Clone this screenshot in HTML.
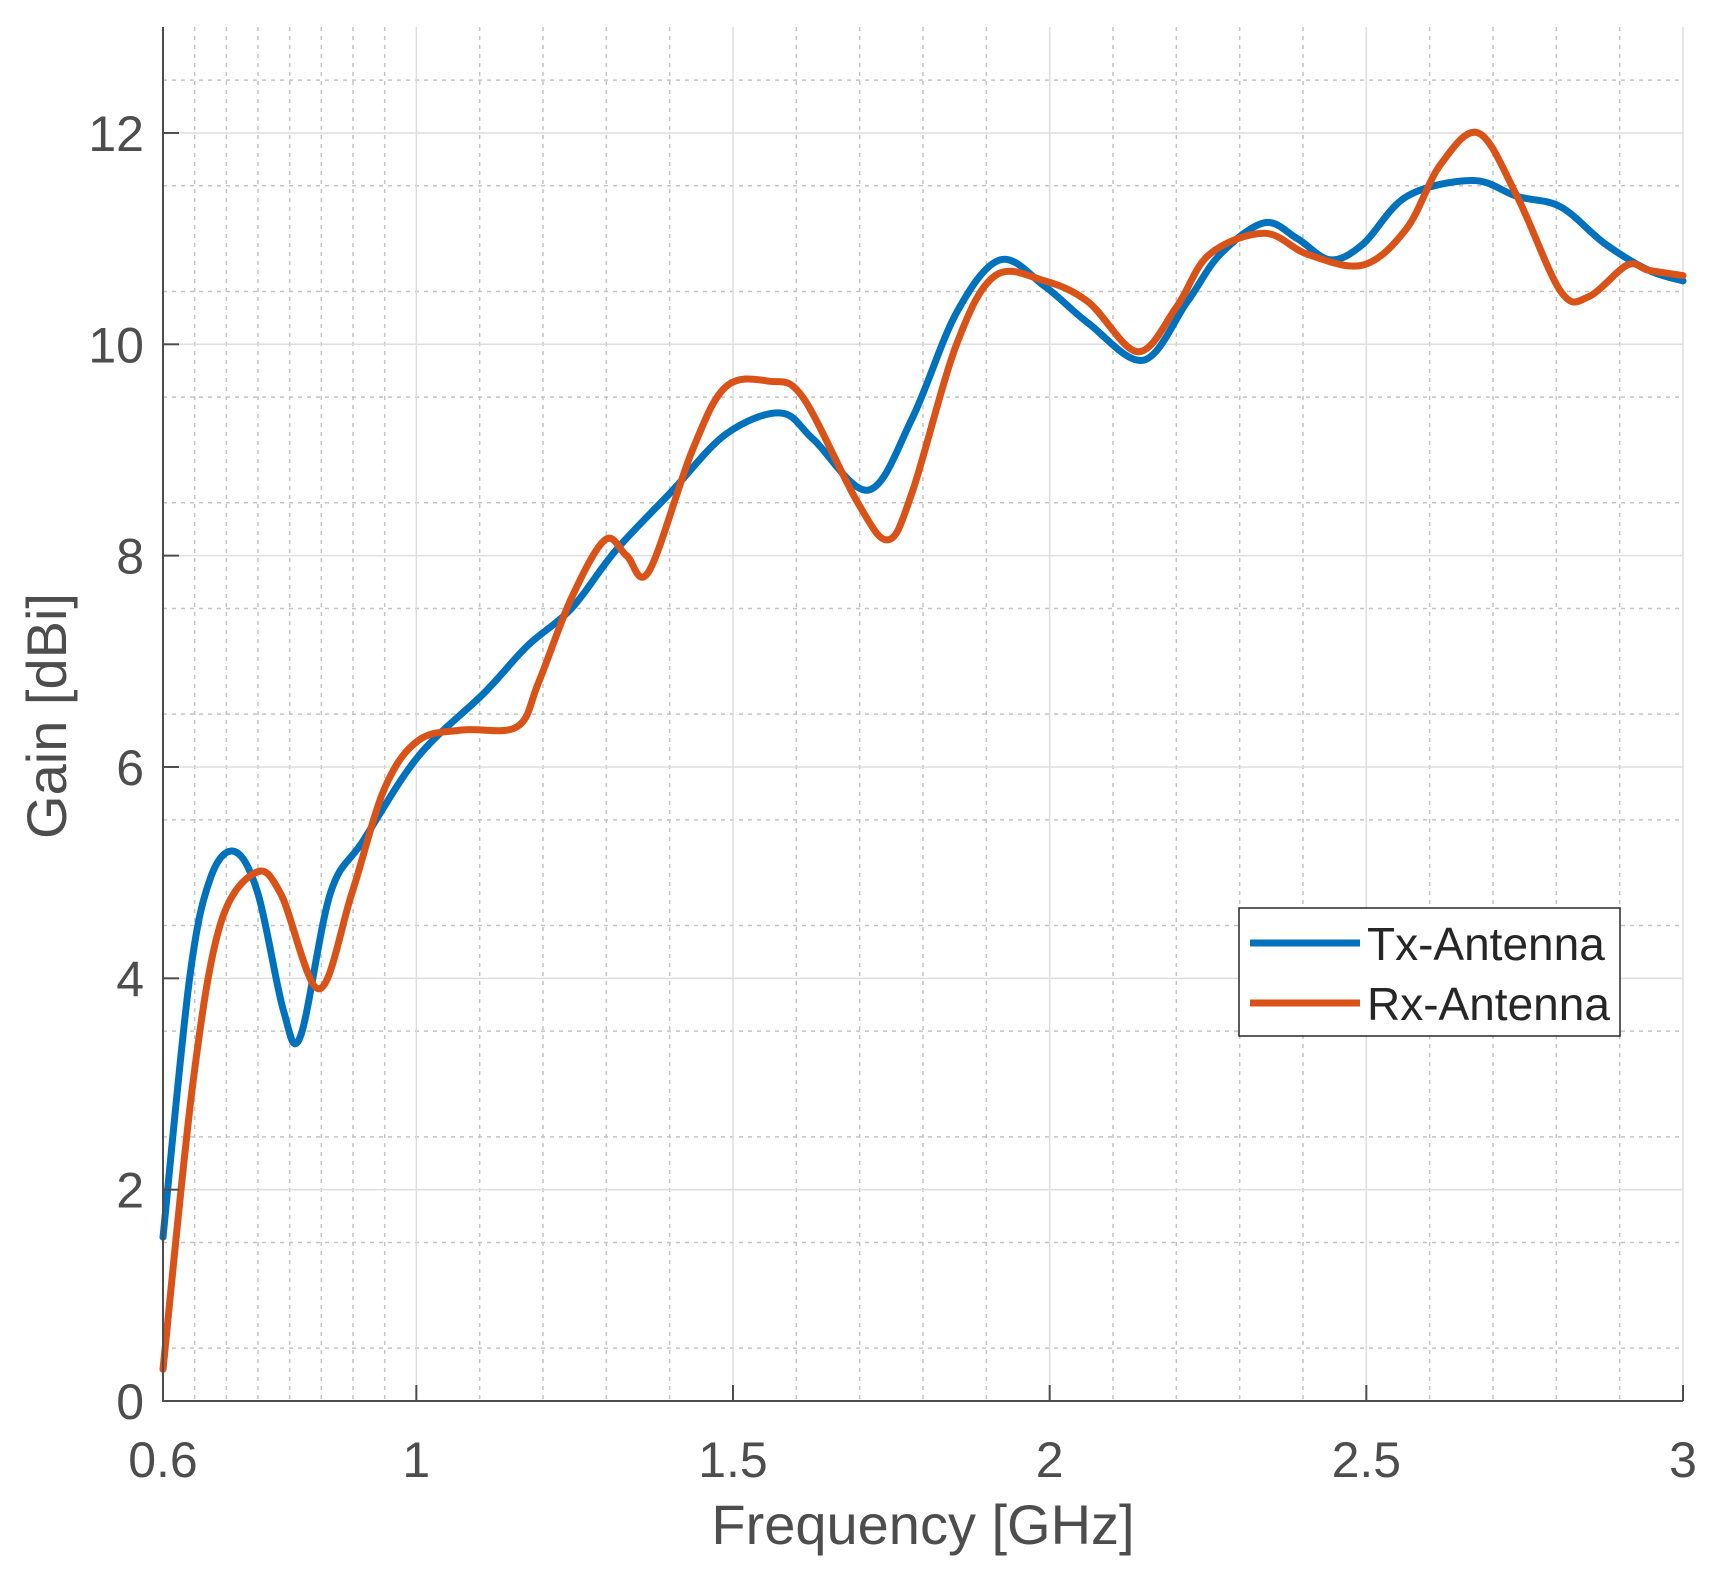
<!DOCTYPE html>
<html><head><meta charset="utf-8">
<style>
html,body{margin:0;padding:0;background:#fff;}
svg{display:block;font-family:"Liberation Sans",Arial,sans-serif;}
</style></head>
<body>
<svg id="s" width="1724" height="1574" viewBox="0 0 1724 1574" xmlns="http://www.w3.org/2000/svg">
<rect width="1724" height="1574" fill="#fff"/>
<g id="grid"></g>
<g id="curves" fill="none" stroke-width="7" stroke-linejoin="round" stroke-linecap="round"></g>
<g id="axes"></g>
<g fill="#4d4d4d">
<text x="923" y="1544" text-anchor="middle" font-size="56">Frequency [GHz]</text>
<text transform="translate(66,716) rotate(-90)" text-anchor="middle" font-size="56">Gain [dBi]</text>
</g>
<g id="legend">
<rect x="1239" y="908" width="381" height="128" fill="#fff" stroke="#262626" stroke-width="1.5"/>
<line x1="1250" y1="943" x2="1360" y2="943" stroke="#0072bd" stroke-width="7"/>
<line x1="1250" y1="1003" x2="1360" y2="1003" stroke="#d95319" stroke-width="7"/>
<text x="1367" y="960" font-size="46" fill="#262626">Tx-Antenna</text>
<text x="1367" y="1020" font-size="46" fill="#262626">Rx-Antenna</text>
</g>
</svg>
<script>
var X0=163,X1=1683,Y0=1401,YT=27;
function fx(f){return X0+(f-0.6)*(X1-X0)/2.4;}
function fy(g){return Y0-g*105.67;}
var NS="http://www.w3.org/2000/svg";
function el(p,t,a,txt){var e=document.createElementNS(NS,t);for(var k in a)e.setAttribute(k,a[k]);if(txt!==undefined)e.textContent=txt;p.appendChild(e);return e;}
var grid=document.getElementById('grid'),axes=document.getElementById('axes');
var mx=[0.65,0.7,0.75,0.8,0.85,0.9,0.95];
for(var f=1.1;f<3;f+=0.1){if(Math.abs(f*2-Math.round(f*2))>0.01)mx.push(f);}
mx.forEach(function(f){var x=fx(f);el(grid,'line',{x1:x,y1:YT,x2:x,y2:Y0,stroke:'#c4c4c4','stroke-width':1.5,'stroke-dasharray':'4 5'});});
for(var g=0.5;g<13;g+=1){var y=fy(g);el(grid,'line',{x1:X0,y1:y,x2:X1,y2:y,stroke:'#c4c4c4','stroke-width':1.5,'stroke-dasharray':'4 5'});}
[1,1.5,2,2.5,3].forEach(function(f){var x=fx(f);el(grid,'line',{x1:x,y1:YT,x2:x,y2:Y0,stroke:'#dedede','stroke-width':1.5});});
for(var g=2;g<=12;g+=2){var y=fy(g);el(grid,'line',{x1:X0,y1:y,x2:X1,y2:y,stroke:'#dedede','stroke-width':1.5});}
el(axes,'line',{x1:X0,y1:YT,x2:X0,y2:Y0+1,stroke:'#4d4d4d','stroke-width':2});
el(axes,'line',{x1:X0,y1:Y0,x2:X1,y2:Y0,stroke:'#4d4d4d','stroke-width':2});
[0.6,1,1.5,2,2.5,3].forEach(function(f){var x=fx(f);el(axes,'line',{x1:x,y1:Y0,x2:x,y2:Y0-16,stroke:'#4d4d4d','stroke-width':2});
 el(axes,'text',{x:x,y:1477,'text-anchor':'middle','font-size':50,fill:'#4d4d4d'},String(f));});
for(var g=0;g<=12;g+=2){var y=fy(g);el(axes,'line',{x1:X0,y1:y,x2:X0+16,y2:y,stroke:'#4d4d4d','stroke-width':2});
 el(axes,'text',{x:144,y:y+18,'text-anchor':'end','font-size':50,fill:'#4d4d4d'},String(g));}
var tx=[[0.6,1.55],[0.642,4.0],[0.675,4.95],[0.713,5.2],[0.75,4.8],[0.79,3.7],[0.817,3.45],[0.864,4.8],[0.916,5.3],[1.003,6.1],[1.107,6.7],[1.176,7.15],[1.245,7.5],[1.315,8.05],[1.402,8.6],[1.489,9.15],[1.575,9.35],[1.627,9.1],[1.714,8.62],[1.783,9.3],[1.853,10.3],[1.922,10.8],[1.992,10.55],[2.061,10.2],[2.148,9.85],[2.217,10.4],[2.269,10.85],[2.339,11.15],[2.391,11.0],[2.443,10.8],[2.495,10.95],[2.564,11.4],[2.668,11.55],[2.738,11.4],[2.807,11.3],[2.877,10.95],[2.946,10.7],[3.0,10.6]];
var rx=[[0.6,0.3],[0.647,3.0],[0.69,4.5],[0.746,5.0],[0.786,4.8],[0.846,3.9],[0.898,4.8],[0.95,5.8],[1.003,6.25],[1.072,6.35],[1.159,6.38],[1.193,6.8],[1.245,7.6],[1.298,8.15],[1.332,8.0],[1.367,7.85],[1.436,9.0],[1.489,9.6],[1.558,9.65],[1.61,9.5],[1.697,8.5],[1.745,8.15],[1.783,8.6],[1.853,10.0],[1.914,10.65],[1.992,10.6],[2.061,10.4],[2.139,9.93],[2.2,10.35],[2.252,10.85],[2.339,11.05],[2.408,10.85],[2.495,10.75],[2.564,11.1],[2.617,11.7],[2.677,12.0],[2.738,11.4],[2.807,10.5],[2.851,10.45],[2.912,10.75],[2.946,10.7],[3.0,10.65]];
function path(d){var p=d.map(function(a){return [fx(a[0]),fy(a[1])];});var s='M'+p[0][0]+','+p[0][1];
 for(var i=0;i<p.length-1;i++){var a=p[i>0?i-1:0],b=p[i],c=p[i+1],e=p[i+2<p.length?i+2:i+1];
 var c1=[b[0]+(c[0]-a[0])/6,b[1]+(c[1]-a[1])/6],c2=[c[0]-(e[0]-b[0])/6,c[1]-(e[1]-b[1])/6];
 s+='C'+c1[0].toFixed(1)+','+c1[1].toFixed(1)+' '+c2[0].toFixed(1)+','+c2[1].toFixed(1)+' '+c[0].toFixed(1)+','+c[1].toFixed(1);}return s;}
var cv=document.getElementById('curves');
el(cv,'path',{d:path(tx),stroke:'#0072bd'});
el(cv,'path',{d:path(rx),stroke:'#d95319'});
</script>
</body></html>
